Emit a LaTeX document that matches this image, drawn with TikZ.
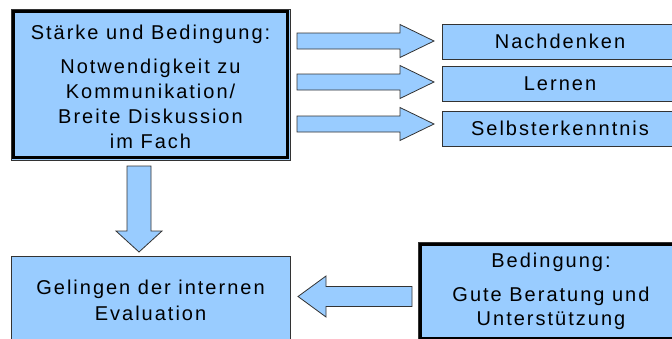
\documentclass[tikz,border=0pt]{standalone}
\usepackage{fontspec}
\setmainfont{Liberation Sans}[LetterSpace=10]
\definecolor{boxblue}{HTML}{99CCFF}
\definecolor{edge}{HTML}{333333}
\tikzset{
  box/.style={draw=edge, line width=0.8pt, fill=boxblue, rectangle, inner sep=0pt,
    align=center, font=\fontsize{20}{25}\selectfont, text=black},
  fatarrow/.style={draw=edge, line width=0.8pt, fill=boxblue, line join=miter},
  thickframe/.style={draw=black, line width=2.6pt}
}
% #1 tail coordinate, #2 angle, #3 length, #4 head length, #5 shaft half width, #6 head half width
\newcommand\fatarrow[6]{\draw[fatarrow, shift={(#1)}, rotate=#2]
  (0,-#5) -- ({#3-#4},-#5) -- ({#3-#4},-#6) -- (#3,0) -- ({#3-#4},#6) -- ({#3-#4},#5) -- (0,#5) -- cycle;}
\begin{document}
\begin{tikzpicture}[x=1pt,y=-1pt]
\useasboundingbox (0,0) rectangle (672,338);
\clip (0,0) rectangle (672,338);

\node[box, minimum width=279pt, minimum height=151pt] (cond) at (150.5,84.5)
  {\rule{0pt}{19.5pt}Stärke und Bedingung:\\[8.5pt]Notwendigkeit zu\\Kommunikation/\\Breite Diskussion\\im Fach};
\draw[thickframe] ([shift={(3,3)}]cond.north west) rectangle ([shift={(-3,-3)}]cond.south east);

\node[box, minimum width=236pt, minimum height=35pt] (nach) at (560,41.5) {Nachdenken};
\node[box, minimum width=236pt, minimum height=35pt] (lern) at (560,83.5) {Lernen};
\node[box, minimum width=236pt, minimum height=35pt] (selbst) at (560,128.5) {Selbsterkenntnis};

\node[box, minimum width=279pt, minimum height=88pt, font=\fontsize{20}{26}\selectfont] (gel) at (150.5,300)
  {Gelingen der internen\\Evaluation};

\node[box, minimum width=266pt, minimum height=99pt, font=\fontsize{20}{24}\selectfont] (bed) at (551,291.5)
  {Bedingung:\\[10pt]Gute Beratung und\\Unterstützung};
\draw[thickframe] ([shift={(3,3)}]bed.north west) rectangle ([shift={(-3,-3)}]bed.south east);

\coordinate (t1) at (297,41);
\coordinate (t2) at (297,82);
\coordinate (t3) at (297,124);
\coordinate (td) at (139,166);
\coordinate (tl) at (412,296.5);

\fatarrow{t1}{0}{137}{34}{8}{16.5}
\fatarrow{t2}{0}{137}{34}{8}{16.5}
\fatarrow{t3}{0}{137}{34}{8}{16.5}
\fatarrow{td}{-90}{86}{21}{12}{23}
\fatarrow{tl}{180}{114}{28}{10}{20.5}
\end{tikzpicture}
\end{document}
